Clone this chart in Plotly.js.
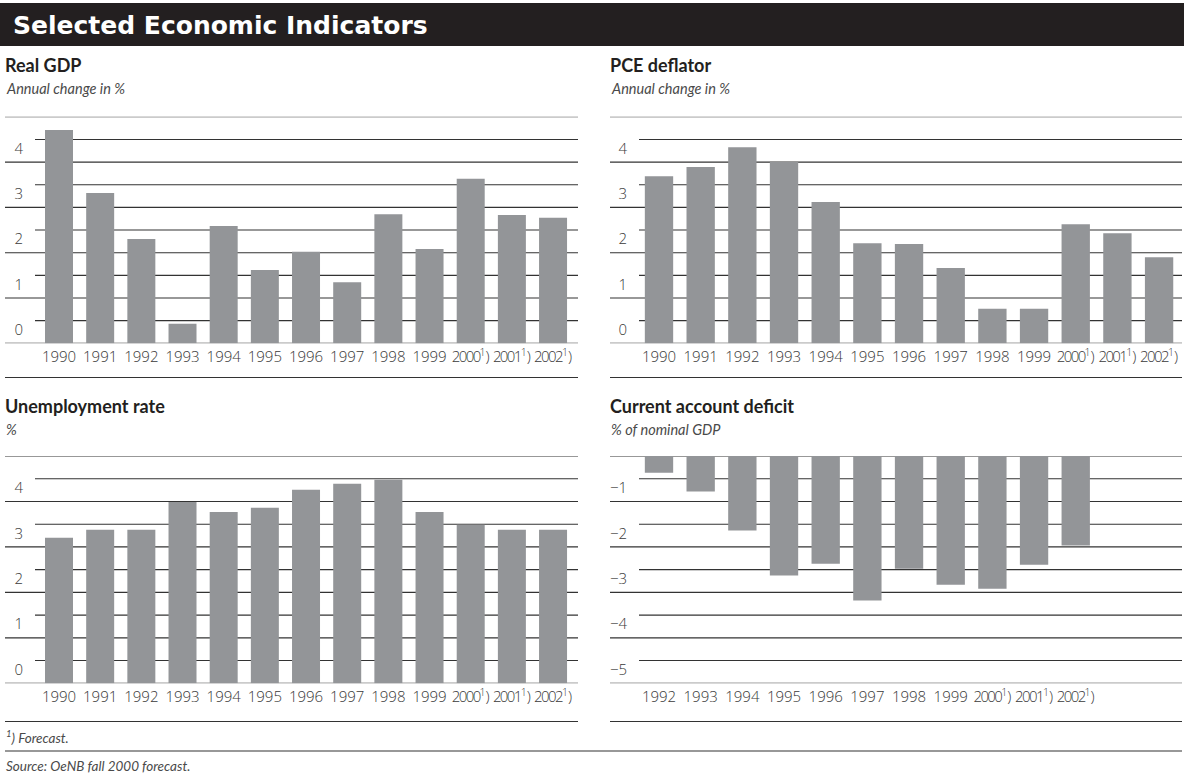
<!DOCTYPE html>
<html>
<head>
<meta charset="utf-8">
<script src="https://cdn.plot.ly/plotly-3.0.1.min.js"></script>
<style>html,body{margin:0;padding:0;background:#fff}#chart{width:1184px;height:781px}</style>
</head>
<body>
<div id="chart"></div>
<script>
// ---------- data ----------
const yearsA = ['1990','1991','1992','1993','1994','1995','1996','1997','1998','1999','2000','2001','2002'];
const labelsA = ['1990','1991','1992','1993','1994','1995','1996','1997','1998','1999',
  '<span style="letter-spacing:-1.6px">2000</span><sup>1</sup>)',
  '<span style="letter-spacing:-1.6px">2001</span><sup>1</sup>)',
  '<span style="letter-spacing:-1.6px">2002</span><sup>1</sup>)'];
const yearsB = ['1992','1993','1994','1995','1996','1997','1998','1999','2000','2001','2002'];
const labelsB = ['1992','1993','1994','1995','1996','1997','1998','1999',
  '<span style="letter-spacing:-1.6px">2000</span><sup>1</sup>)',
  '<span style="letter-spacing:-1.6px">2001</span><sup>1</sup>)',
  '<span style="letter-spacing:-1.6px">2002</span><sup>1</sup>)'];

const realGDP      = [4.71, 3.32, 2.30, 0.43, 2.59, 1.62, 2.02, 1.35, 2.85, 2.08, 3.63, 2.83, 2.77];
const pceDeflator  = [3.69, 3.89, 4.33, 4.00, 3.12, 2.21, 2.19, 1.66, 0.76, 0.76, 2.63, 2.43, 1.90];
const unemployment = [3.20, 3.38, 3.38, 3.99, 3.77, 3.86, 4.26, 4.39, 4.48, 3.77, 3.49, 3.38, 3.38];
const currentAcct  = [-0.37, -0.78, -1.64, -2.63, -2.37, -3.18, -2.48, -2.83, -2.92, -2.39, -1.97];

const ticksPos = [0, 1, 2, 3, 4];
const ticksPosText = ['0', '1', '2', '3', '4'];
const ticksNeg = [-1, -2, -3, -4, -5];
const ticksNegText = ['\u22121', '\u22122', '\u22123', '\u22124', '\u22125'];

// ---------- geometry helpers ----------
const W = 1184, H = 781;
const px = x => x / W;
const py = y => 1 - y / H;

const BAR = '#939598';
const INK = '#231f20';
const LINE = '#333333';
const LABEL_LIFT = 0.3; // tick labels sit just above their gridline

const idxA = yearsA.map((_, i) => i);
const idxB = yearsB.map((_, i) => i);

function bar(xs, ys, names, xa, ya) {
  return {type: 'bar', x: xs, y: ys, customdata: names, xaxis: xa, yaxis: ya,
    width: 0.68, marker: {color: BAR, line: {width: 0}},
    hovertemplate: '%{customdata}: %{y}<extra></extra>', showlegend: false};
}

const traces = [
  bar(idxA, realGDP, yearsA, 'x', 'y'),
  bar(idxA, pceDeflator, yearsA, 'x2', 'y2'),
  bar(idxA, unemployment, yearsA, 'x3', 'y3'),
  bar(idxB, currentAcct, yearsB, 'x4', 'y4')
];

const tickFont = {family: 'Open Sans, sans-serif', size: 15, color: '#3a3a3a', weight: 300};

function xax(dom, rng, vals, text, anchor) {
  return {domain: dom, range: rng, tickvals: vals, ticktext: text, showgrid: false,
    zeroline: false, showline: false, ticks: '', tickfont: tickFont, fixedrange: true,
    ticklabelstandoff: 3, anchor: anchor};
}
function yax(dom, rng, vals, text, anchor) {
  return {domain: dom, range: rng, tickvals: vals.map(v => v + LABEL_LIFT), ticktext: text,
    showgrid: false, zeroline: false, showline: false, ticks: '', tickfont: tickFont,
    fixedrange: true, ticklabelstandoff: 11, anchor: anchor};
}

const Lx = [px(35), px(578)], Rx = [px(639), px(1182)];
const Lfull = [px(5), px(578)], Rfull = [px(610), px(1182)];
const topY = [py(343.3), py(116.8)], botY = [py(683.3), py(456)];
const rangeL = [-0.583, 12.606], rangeR = [-0.48, 12.55];

// gridline shapes
const shapes = [];
function grid(yref, lo, hi, plotX, fullX) {
  for (let v = lo; v <= hi + 1e-9; v += 0.5) {
    const isInt = Math.abs(v - Math.round(v)) < 1e-9;
    const xr = isInt ? fullX : plotX;
    shapes.push({type: 'line', xref: 'paper', yref: yref, x0: xr[0], x1: xr[1], y0: v, y1: v,
      line: {color: LINE, width: 1.1}, layer: 'below'});
  }
}
grid('y', 0, 5, Lx, Lfull);
grid('y2', 0, 5, Rx, Rfull);
grid('y3', 0, 5, Lx, Lfull);
grid('y4', -5, 0, Rx, Rfull);

function hline(y, x0, x1) {
  shapes.push({type: 'line', xref: 'paper', yref: 'paper', x0: px(x0), x1: px(x1), y0: py(y), y1: py(y),
    line: {color: LINE, width: 1.1}, layer: 'below'});
}
hline(377.5, 5, 578); hline(377.5, 610, 1182);
hline(721.5, 5, 578); hline(721.5, 610, 1182);
hline(751, 5, 1182);

// title bar
shapes.push({type: 'rect', xref: 'paper', yref: 'paper', x0: 0, x1: 1, y0: py(46), y1: py(3),
  fillcolor: INK, line: {width: 0}, layer: 'below'});

const titleFont = {family: 'Lato, sans-serif', size: 18, color: INK, weight: 700};
const subFont = {family: 'Lato, sans-serif', size: 14.5, color: '#4a4a4a', style: 'italic'};
const footFont = {family: 'Lato, sans-serif', size: 13.5, color: '#4a4a4a', style: 'italic'};

function ann(text, x, y, font) {
  return {text: text, xref: 'paper', yref: 'paper', x: px(x), y: py(y), xanchor: 'left',
    yanchor: 'middle', showarrow: false, font: font};
}

const annotations = [
  ann('Selected Economic Indicators', 11, 25, {family: 'DejaVu Sans, sans-serif', size: 25, color: '#ffffff', weight: 700}),
  ann('Real GDP', 3, 65, titleFont),
  ann('Annual change in %', 4, 89, subFont),
  ann('PCE deflator', 608, 65, titleFont),
  ann('Annual change in %', 609, 89, subFont),
  ann('Unemployment rate', 3, 406, titleFont),
  ann('%', 4, 430, subFont),
  ann('Current account deficit', 608, 406, titleFont),
  ann('% of nominal GDP', 609, 430, subFont),
  ann('<sup>1</sup>) Forecast.', 4, 737, footFont),
  ann('Source: OeNB fall 2000 forecast.', 4, 766, footFont)
];

const layout = {
  width: W, height: H,
  margin: {l: 0, r: 0, t: 0, b: 0},
  paper_bgcolor: '#ffffff', plot_bgcolor: 'rgba(0,0,0,0)',
  showlegend: false,
  xaxis: xax(Lx, rangeL, idxA, labelsA, 'y'),
  yaxis: yax(topY, [0, 5], ticksPos, ticksPosText, 'x'),
  xaxis2: xax(Rx, rangeR, idxA, labelsA, 'y2'),
  yaxis2: yax(topY, [0, 5], ticksPos, ticksPosText, 'x2'),
  xaxis3: xax(Lx, rangeL, idxA, labelsA, 'y3'),
  yaxis3: yax(botY, [0, 5], ticksPos, ticksPosText, 'x3'),
  xaxis4: xax(Rx, rangeR, idxB, labelsB, 'y4'),
  yaxis4: yax(botY, [-5, 0], ticksNeg, ticksNegText, 'x4'),
  shapes: shapes,
  annotations: annotations
};

Plotly.newPlot('chart', traces, layout, {displayModeBar: false, staticPlot: true});
</script>
</body>
</html>
